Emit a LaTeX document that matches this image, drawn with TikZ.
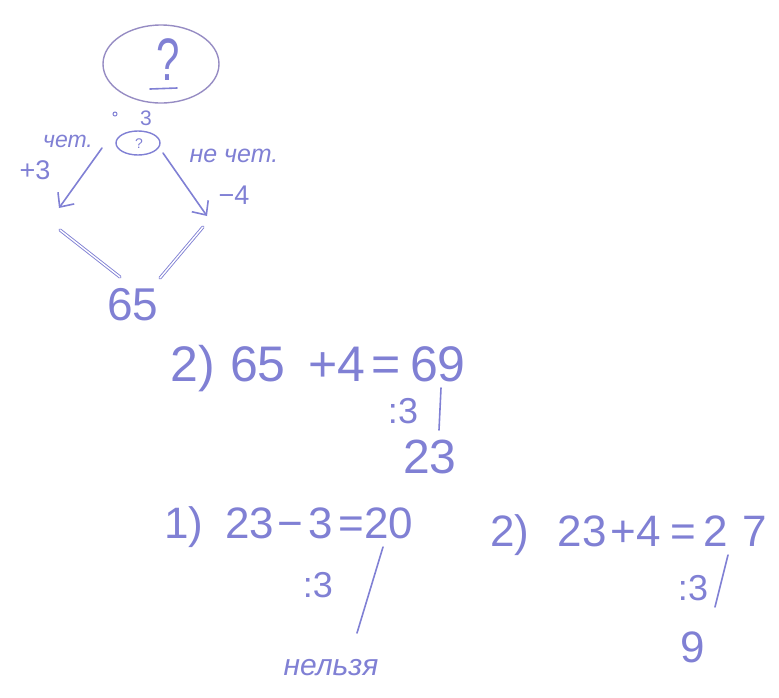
\documentclass[tikz,border=0pt]{standalone}
\usepackage{fontspec}
\usepackage{graphicx}
\setmainfont{Liberation Sans}
\usetikzlibrary{arrows.meta,shapes.geometric}
\definecolor{penc}{RGB}{128,128,212}
\definecolor{pend}{RGB}{150,140,195}
\begin{document}
\begin{tikzpicture}[x=1pt,y=-1pt,
  stroke/.style={draw=penc, line width=1.6pt, line cap=round},
  dbl/.style={draw=penc, line width=0.9pt, double=white, double distance=1.4pt, line cap=round},
  arr/.style={stroke, -{Straight Barb[length=11pt,width=20pt,line width=1.6pt]}},
  txt/.style={text=penc, inner sep=0pt, anchor=base, font=\fontsize{#1}{#1}\selectfont},
  itx/.style={text=penc, inner sep=0pt, anchor=base, font=\fontsize{#1}{#1}\selectfont\itshape}]
\useasboundingbox (0,0) rectangle (779,697);

% top question
\node[ellipse, draw=pend, line width=1.4pt, minimum width=116pt, minimum height=78pt, inner sep=0pt] (bigE) at (161,64) {};
\node[txt=60] (qbig) at (168,80) {\scalebox{0.7}[1]{?}};
\coordinate (u1) at (150,89);
\coordinate (u2) at (177,88);
\draw[stroke] (u1) -- (u2);

\node[circle, draw=penc, line width=1pt, minimum size=4pt, inner sep=0pt] (dot) at (115,114) {};
\node[txt=21] (div3a) at (146,125) {3};

\node[ellipse, draw=penc, line width=1.4pt, minimum width=44pt, minimum height=24pt, inner sep=0pt] (smallE) at (138,143) {};
\node[txt=14] (qsmall) at (139,148) {?};

\node[itx=23] (chet) at (68,147) {чет.};
\node[txt=27] (p3) at (35,179) {+3};
\node[itx=25] (nechet) at (234,162) {не чет.};
\node[txt=27] (m4) at (234,204) {−4};

\coordinate (la1) at (102,148);
\coordinate (la2) at (59,208);
\coordinate (ra1) at (163,153);
\coordinate (ra2) at (207,216);
\draw[arr] (la1) -- (la2);
\draw[arr] (ra1) -- (ra2);

\coordinate (ll1) at (60,230);
\coordinate (ll2) at (120,277);
\coordinate (rl1) at (203,227);
\coordinate (rl2) at (160,278);
\draw[dbl] (ll1) -- (ll2);
\draw[dbl] (rl1) -- (rl2);

\node[txt=46] (n65) at (133,320) {65};

% step 2: 65+4=69
\node[txt=50] (e1a) at (193,381) {2)};
\node[txt=50] (e1b) at (258,381) {65};
\node[txt=50] (e1c) at (337,381) {+4};
\node[txt=50] (e1d) at (386,381) {=};
\node[txt=50] (e1e) at (438,381) {69};
\node[txt=36] (e1f) at (403,423) {:3};
\coordinate (b1a) at (441,388);
\coordinate (b1b) at (439,430);
\draw[stroke] (b1a) -- (b1b);
\node[txt=48] (e1g) at (430,473) {23};

% 1) 23-3=20
\node[txt=44] (e2a) at (184,538) {1)};
\node[txt=44] (e2b) at (250,538) {23};
\node[txt=44] (e2c) at (290,538) {−};
\node[txt=44] (e2d) at (321,538) {3};
\node[txt=44] (e2e) at (351,538) {=};
\node[txt=44] (e2f) at (389,538) {20};
\node[txt=36] (e2g) at (318,597) {:3};
\coordinate (b2a) at (383,547);
\coordinate (b2b) at (357,633);
\draw[stroke] (b2a) -- (b2b);
\node[itx=30] (nelzya) at (331,675) {нельзя};

% 2) 23+4=27
\node[txt=44] (e3a) at (510,546) {2)};
\node[txt=44] (e3b) at (582,546) {23};
\node[txt=44] (e3c) at (636,546) {+4};
\node[txt=44] (e3e) at (683,546) {=};
\node[txt=44] (e3f) at (716,546) {2};
\node[txt=44] (e3g) at (755,546) {7};
\node[txt=36] (e3h) at (693,600) {:3};
\coordinate (b3a) at (728,555);
\coordinate (b3b) at (715,607);
\draw[stroke] (b3a) -- (b3b);
\node[txt=44] (e3i) at (693,662) {9};
\end{tikzpicture}
\end{document}
